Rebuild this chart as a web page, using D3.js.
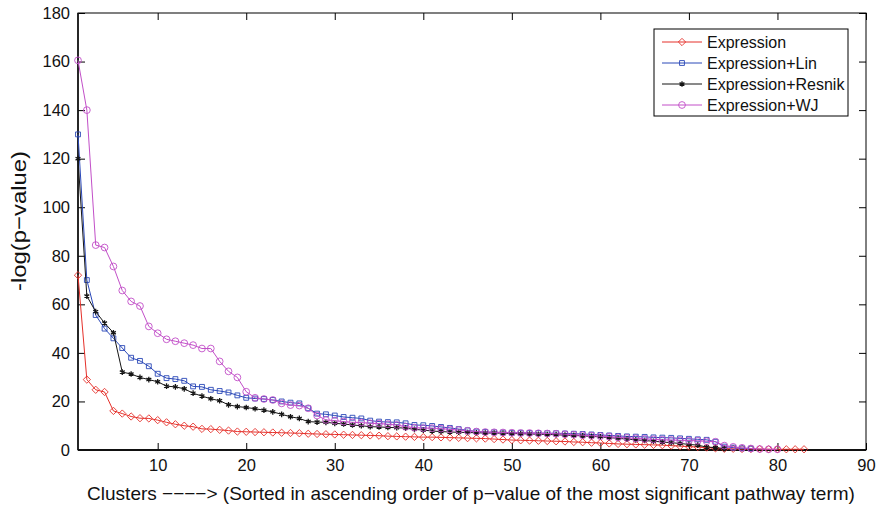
<!DOCTYPE html>
<html>
<head>
<meta charset="utf-8">
<script src="https://cdn.jsdelivr.net/npm/d3@7"></script>
<style>
  body { margin: 0; background: #fff; }
  svg text { font-family: "Liberation Sans", Arial, Helvetica, sans-serif; }
</style>
</head>
<body>
<div id="chart"></div>
<script>
// values, cluster index starts at 1
const expression = [72, 29, 24.8, 23.9, 16.1, 15, 13.8, 13.1, 13, 12.3,
  11.4, 10.6, 10, 9.6, 8.7, 8.6, 8.3, 8.0, 7.6, 7.5,
  7.4, 7.3, 7.2, 7.1, 7.0, 6.9, 6.7, 6.6, 6.5, 6.4,
  6.3, 6.2, 6.1, 6.0, 5.9, 5.7, 5.6, 5.5, 5.4, 5.3, 5.3,
  5.2, 5.1, 5.0, 4.9, 4.8, 4.7, 4.5, 4.3, 4.1,
  4.0, 3.9, 3.8, 3.7, 3.6, 3.5, 3.3, 3.2, 3.0, 2.9,
  2.7, 2.5, 2.4, 2.3, 2.2, 2.1, 2.0, 1.8, 1.6, 1.4,
  1.2, 1.0, 0.7, 0.5, 0.5, 0.4, 0.4, 0.4, 0.3, 0.3,
  0.3, 0.3, 0.3]
const expressionLin = [130, 70, 55.6, 50, 46, 42, 38, 36.7, 34.5, 31.4,
  29.6, 29.2, 28.5, 26.2, 26.0, 24.8, 24.3, 23.7, 22.5, 21.5,
  21.2, 21, 20.6, 20, 19.5, 19.2, 17.2, 15, 14.7, 14.2,
  13.6, 13.3, 13, 12.1, 11.7, 11.5, 11.4, 11, 10.3, 10.2, 9.9,
  9.5, 9.1, 8.6, 8.1, 7.6, 7.4, 7.3, 7.2, 7.1, 7.1,
  7.0, 7.0, 6.9, 6.9, 6.8, 6.7, 6.6, 6.4, 6.2, 6.0,
  5.8, 5.6, 5.5, 5.4, 5.2, 5.1, 5.0, 4.8, 4.6, 4.4,
  4.2, 3.4, 1.4, 1.0, 0.7, 0.6]
const expressionResnik = [120, 63.4, 57, 52.3, 48.3, 32.1, 31.3, 29.9, 29, 28.1,
  26.3, 26, 25.2, 23.4, 22.2, 21.1, 20.3, 18.6, 17.9, 17.5,
  17, 16.4, 15.7, 14.7, 13.7, 13, 11.7, 11.5, 11.4, 11,
  10.7, 10.3, 10, 9.6, 9.5, 9.3, 9.2, 9, 8.5, 8.2, 7.8,
  7.6, 7.4, 7.3, 7.2, 7.1, 7.0, 7.0, 6.9, 6.8, 6.7,
  6.6, 6.5, 6.4, 6.3, 6.1, 6.0, 5.8, 5.6, 5.4, 5.1,
  4.8, 4.5, 4.2, 3.9, 3.6, 3.3, 3.0, 2.7, 2.3, 2.0,
  1.2, 1.0, 0.6]
const expressionWJ = [160.5, 140, 84.4, 83.4, 75.6, 65.7, 61.2, 59.3, 50.9, 48.1,
  45.6, 44.8, 44, 43.2, 41.8, 41.8, 36.5, 32.4, 29.9, 24,
  21.5, 21, 20.6, 19.2, 18.5, 18.3, 17.2, 14.2, 12.4, 12.1,
  11.7, 11.4, 11.3, 11, 10.9, 10.6, 10.3, 9.6, 9.2, 9, 9,
  8.8, 8.5, 8.2, 7.9, 7.6, 7.4, 7.3, 7.2, 7.1, 7.0,
  7.0, 6.9, 6.8, 6.7, 6.5, 6.3, 6.1, 5.9, 5.7, 5.5,
  5.2, 5.0, 4.8, 4.6, 4.4, 4.2, 4.1, 4.0, 3.9, 3.8,
  3.6, 3.4, 1.8, 1.3, 0.9, 0.6, 0.4, 0.3, 0.3]

const seriesNames = ["Expression", "Expression+Lin", "Expression+Resnik", "Expression+WJ"]
const xTicks = [10, 20, 30, 40, 50, 60, 70, 80, 90]
const yTicks = [0, 20, 40, 60, 80, 100, 120, 140, 160, 180]

const width = 879
const height = 508
const plot = { left: 78, right: 866, top: 13, bottom: 450 }

const svg = d3.select("#chart")
  .append("svg")
    .attr("width", width)
    .attr("height", height)
    .style("display", "block")

svg.append("rect")
  .attr("width", width)
  .attr("height", height)
  .attr("fill", "#fff")

const x = d3.scaleLinear().domain([1, 90]).range([plot.left, plot.right])
const y = d3.scaleLinear().domain([0, 180]).range([plot.bottom, plot.top])

// matlab style: ticks point inwards, on all four sides
const tickLen = 7

function styleAxis(g, showText) {
  g.select(".domain").remove()
  g.selectAll(".tick line").attr("stroke", "#000").attr("stroke-width", 1)
  g.selectAll(".tick text")
    .attr("fill", "#111")
    .style("font-size", "16.5px")
  if (!showText) g.selectAll(".tick text").remove()
}

svg.append("g")
  .attr("transform", `translate(0,${plot.bottom})`)
  .call(d3.axisBottom(x).tickValues(xTicks).tickSize(-tickLen).tickPadding(9))
  .call(g => styleAxis(g, true))

svg.append("g")
  .attr("transform", `translate(0,${plot.top})`)
  .call(d3.axisTop(x).tickValues(xTicks).tickSize(-tickLen))
  .call(g => styleAxis(g, false))

svg.append("g")
  .attr("transform", `translate(${plot.left},0)`)
  .call(d3.axisLeft(y).tickValues(yTicks).tickSize(-tickLen).tickPadding(8))
  .call(g => styleAxis(g, true))

svg.append("g")
  .attr("transform", `translate(${plot.right},0)`)
  .call(d3.axisRight(y).tickValues(yTicks).tickSize(-tickLen))
  .call(g => styleAxis(g, false))

// box
svg.append("rect")
  .attr("x", plot.left)
  .attr("y", plot.top)
  .attr("width", plot.right - plot.left)
  .attr("height", plot.bottom - plot.top)
  .attr("fill", "none")
  .attr("stroke", "#000")
  .attr("stroke-width", 1)
svg.append("line")
  .attr("x1", plot.left).attr("x2", plot.right)
  .attr("y1", plot.bottom).attr("y2", plot.bottom)
  .attr("stroke", "#111").attr("stroke-width", 2)
svg.append("line")
  .attr("x1", plot.left).attr("x2", plot.left)
  .attr("y1", plot.top).attr("y2", plot.bottom)
  .attr("stroke", "#111").attr("stroke-width", 1.6)

// series setup
const series = [
  { name: seriesNames[0], values: expression, color: "#e5302a", symbol: d3.symbolDiamond2, size: 34 },
  { name: seriesNames[1], values: expressionLin, color: "#2a48b8", symbol: d3.symbolSquare2, size: 30 },
  { name: seriesNames[2], values: expressionResnik, color: "#151515", symbol: d3.symbolAsterisk, size: 22 },
  { name: seriesNames[3], values: expressionWJ, color: "#c24fc8", symbol: d3.symbolCircle, size: 36 }
]

const line = d3.line()
  .x((d, i) => x(i + 1))
  .y(d => y(d))

series.forEach(s => {
  const g = svg.append("g")
  g.append("path")
    .datum(s.values)
    .attr("fill", "none")
    .attr("stroke", s.color)
    .attr("stroke-width", 1)
    .attr("d", line)

  g.selectAll("path.mark")
    .data(s.values)
    .join("path")
      .attr("class", "mark")
      .attr("transform", (d, i) => `translate(${x(i + 1)},${y(d)})`)
      .attr("d", d3.symbol().type(s.symbol).size(s.size))
      .attr("fill", "none")
      .attr("stroke", s.color)
      .attr("stroke-width", s.symbol === d3.symbolAsterisk ? 1.3 : 0.9)
})

// legend
const legend = svg.append("g").attr("transform", "translate(654,29)")
legend.append("rect")
  .attr("width", 194)
  .attr("height", 87)
  .attr("fill", "#fff")
  .attr("stroke", "#000")
  .attr("stroke-width", 1)

series.forEach((s, i) => {
  const row = legend.append("g").attr("transform", `translate(0,${13 + i * 21})`)
  row.append("line")
    .attr("x1", 8).attr("x2", 48)
    .attr("stroke", s.color).attr("stroke-width", 1)
  row.append("path")
    .attr("transform", "translate(28,0)")
    .attr("d", d3.symbol().type(s.symbol).size(s.size))
    .attr("fill", "none")
    .attr("stroke", s.color)
    .attr("stroke-width", s.symbol === d3.symbolAsterisk ? 1.3 : 0.9)
  row.append("text")
    .attr("x", 53)
    .attr("dy", "0.36em")
    .attr("fill", "#111")
    .style("font-size", "16px")
    .text(s.name)
})

// axis titles
svg.append("text")
  .attr("x", (plot.left + plot.right) / 2 - 1)
  .attr("y", 500)
  .attr("text-anchor", "middle")
  .attr("fill", "#111")
  .style("font-size", "19px")
  .text("Clusters −−−−> (Sorted in ascending order of p−value of the most significant pathway term)")

svg.append("text")
  .attr("transform", "translate(26,221) rotate(-90)")
  .attr("text-anchor", "middle")
  .attr("fill", "#111")
  .style("font-size", "21px")
  .attr("textLength", 140)
  .attr("lengthAdjust", "spacingAndGlyphs")
  .text("-log(p−value)")
</script>
</body>
</html>
